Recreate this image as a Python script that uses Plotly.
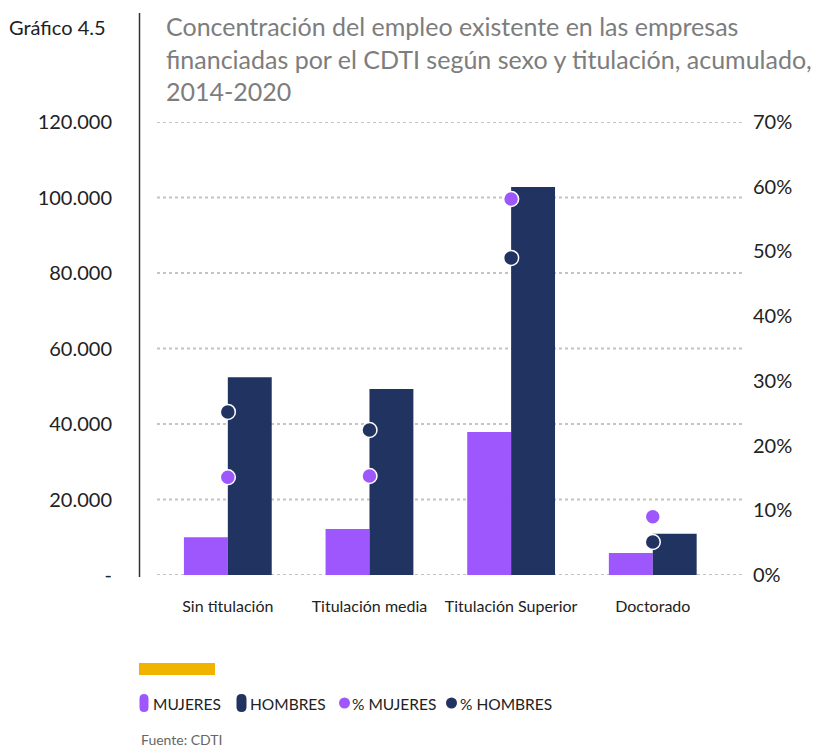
import plotly.graph_objects as go

categories = ["Sin titulación", "Titulación media", "Titulación Superior", "Doctorado"]
mujeres = [10000, 12200, 37900, 5800]
hombres = [52400, 49300, 102800, 10900]
pct_mujeres = [15.1, 15.3, 58.1, 9.0]
pct_hombres = [25.2, 22.4, 49.0, 5.1]

left_tickvals = [0, 20000, 40000, 60000, 80000, 100000, 120000]
left_ticktext = ["-", "20.000", "40.000", "60.000", "80.000", "100.000", "120.000"]
right_tickvals = [0, 10, 20, 30, 40, 50, 60, 70]
right_ticktext = ["0%", "10%", "20%", "30%", "40%", "50%", "60%", "70%"]

C_M = "#9d57fd"
C_H = "#213361"
FONT = "Lato"

# page offset of the figure (browser body margin)
OFF = 8
FIG_W, FIG_H = 820 - OFF, 751 - OFF
# plot area in page pixels
L, R, T, B = 157, 742, 122, 575
W, H = R - L, B - T


def px(x):
    return (x - L) / W


def py(y):
    return (B - y) / H


fig = go.Figure()
fig.add_trace(go.Bar(x=categories, y=mujeres, name="MUJERES", marker=dict(color=C_M, line=dict(width=0)), yaxis="y"))
fig.add_trace(go.Bar(x=categories, y=hombres, name="HOMBRES", marker=dict(color=C_H, line=dict(width=0)), yaxis="y"))
fig.add_trace(go.Scatter(x=categories, y=pct_mujeres, name="% MUJERES", mode="markers", yaxis="y2",
                         marker=dict(color=C_M, size=15, line=dict(color="white", width=1.5))))
fig.add_trace(go.Scatter(x=categories, y=pct_hombres, name="% HOMBRES", mode="markers", yaxis="y2",
                         marker=dict(color=C_H, size=15, line=dict(color="white", width=1.5))))

fig.update_layout(
    width=FIG_W, height=FIG_H,
    margin=dict(l=L - OFF, r=FIG_W - (R - OFF), t=T - OFF, b=FIG_H - (B - OFF), autoexpand=False),
    paper_bgcolor="white", plot_bgcolor="white",
    font=dict(family=FONT, color="#222"),
    barmode="group", bargap=0.38, bargroupgap=0,
    showlegend=False,
    xaxis=dict(range=[-0.5, 3.63], showgrid=False, showline=False, zeroline=False, automargin=False,
               tickfont=dict(size=16, color="#222"), ticks="outside", ticklen=17, tickcolor="rgba(0,0,0,0)"),
    yaxis=dict(range=[0, 120000], tickvals=left_tickvals, ticktext=left_ticktext,
               showgrid=False, zeroline=False, showline=False, automargin=False,
               tickfont=dict(size=20, color="#222"),
               ticks="outside", ticklen=0, ticklabelstandoff=40),
    yaxis2=dict(range=[0, 70], overlaying="y", side="right", tickvals=right_tickvals, ticktext=right_ticktext,
                showgrid=False, zeroline=False, showline=False, automargin=False,
                tickfont=dict(size=20, color="#222"),
                ticks="outside", ticklen=0, ticklabelstandoff=6),
)

# dotted gridlines at left-axis ticks
for v in left_tickvals:
    fig.add_shape(type="line", xref="paper", yref="y", x0=0, x1=1, y0=v, y1=v,
                  line=dict(color="#c4c4c4", width=2, dash="dot"), layer="below")

# vertical axis line (left), extends into title area
fig.add_shape(type="line", xref="paper", yref="paper",
              x0=px(139.5), x1=px(139.5), y0=py(577), y1=py(13),
              line=dict(color="#333", width=1.5))
# orange accent bar
fig.add_shape(type="rect", xref="paper", yref="paper",
              x0=px(139), x1=px(215), y0=py(675), y1=py(663),
              fillcolor="#f0b400", line=dict(width=0))


def pill(x0, x1, y0, y1, color):
    r = (x1 - x0) / 2
    pts = [
        ("M", [(x0, y0 + r)]),
        ("L", [(x0, y1 - r)]),
        ("Q", [(x0, y1), (x0 + r, y1)]),
        ("Q", [(x1, y1), (x1, y1 - r)]),
        ("L", [(x1, y0 + r)]),
        ("Q", [(x1, y0), (x1 - r, y0)]),
        ("Q", [(x0, y0), (x0, y0 + r)]),
    ]
    path = ""
    for cmd, ps in pts:
        path += cmd + " " + " ".join(f"{px(a):.5f},{py(b):.5f}" for a, b in ps) + " "
    path += "Z"
    fig.add_shape(type="path", xref="paper", yref="paper", path=path,
                  fillcolor=color, line=dict(width=0))


def dot(cx, cy, d, color):
    fig.add_shape(type="circle", xref="paper", yref="paper",
                  x0=px(cx - d / 2), x1=px(cx + d / 2), y0=py(cy + d / 2), y1=py(cy - d / 2),
                  fillcolor=color, line=dict(width=0))


LEG_Y = 703
pill(139.5, 148.5, 694, 712, C_M)
pill(236.5, 246.5, 694, 712, C_H)
dot(344.5, LEG_Y, 11, C_M)
dot(451.5, LEG_Y, 11, C_H)
legend_items = [(153, "MUJERES"), (250, "HOMBRES"), (352, "% MUJERES"), (460, "% HOMBRES")]
for xpos, txt in legend_items:
    fig.add_annotation(xref="paper", yref="paper", x=px(xpos), y=py(LEG_Y + 1),
                       xanchor="left", yanchor="middle", showarrow=False, xshift=-2,
                       text=txt, font=dict(size=15.5, color="#222", family=FONT))

fig.add_annotation(xref="paper", yref="paper", x=px(7), y=py(27),
                   xanchor="left", yanchor="middle", showarrow=False, align="left",
                   text="Gráfico 4.5", font=dict(size=20, color="#222", family=FONT))
fig.add_annotation(xref="paper", yref="paper", x=px(164), y=py(9),
                   xanchor="left", yanchor="top", showarrow=False, align="left",
                   text="Concentración del empleo existente en las empresas<br>financiadas por el CDTI según sexo y titulación, acumulado,<br>2014-2020",
                   font=dict(size=25, color="#7d7d7d", family=FONT))
fig.add_annotation(xref="paper", yref="paper", x=px(139), y=py(740),
                   xanchor="left", yanchor="middle", showarrow=False, align="left",
                   text="Fuente: CDTI", font=dict(size=14, color="#666", family=FONT))

fig.write_html("out.html")
